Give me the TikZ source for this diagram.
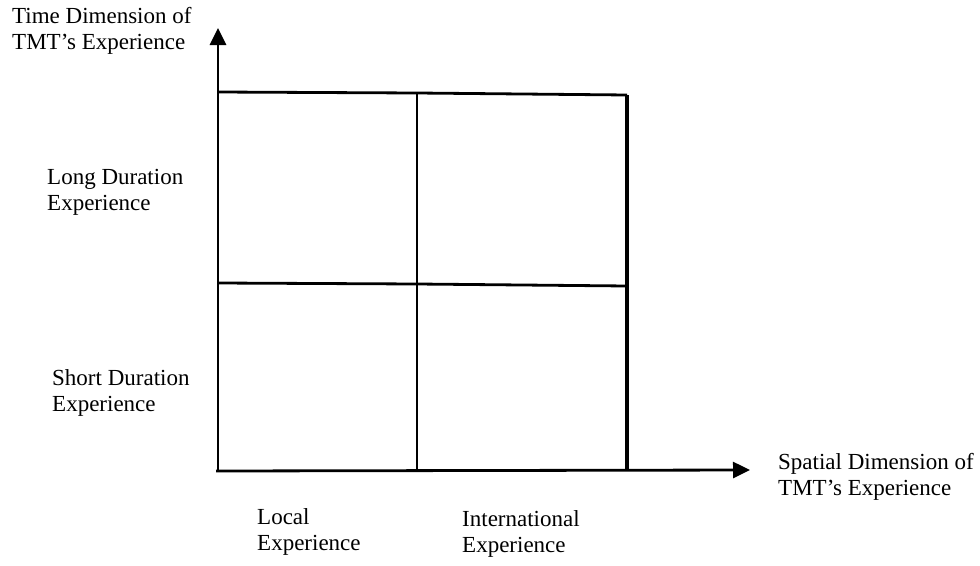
\documentclass[tikz,border=0pt]{standalone}
\usepackage{fontspec}
\setmainfont{Liberation Serif}
\usetikzlibrary{arrows.meta,positioning}

\tikzset{
    axis/.style={line width=2.8pt, -{Triangle[length=17pt,width=16pt]}},
    grid/.style={line width=2.8pt},
    lbl/.style={anchor=west, align=left, inner sep=0pt, font=\fontsize{23}{26}\selectfont}
}

\begin{document}
\begin{tikzpicture}[x=1pt, y=-1pt]
    \useasboundingbox (0,0) rectangle (980,565);
    % corners of the grid
    \coordinate (o) at (218,471);
    \coordinate (ytip) at (218,28);
    \coordinate (xtip) at (750,470);
    \coordinate (tl) at (218,92);
    \coordinate (tm) at (417,93);
    \coordinate (tr) at (627,95);
    \coordinate (ml) at (218,283);
    \coordinate (mm) at (417,284);
    \coordinate (mr) at (627,286);
    \coordinate (bm) at (417,471);
    \coordinate (br) at (627,471);
    % axes
    \draw[axis] (o) -- (ytip);
    \draw[axis] (216,471) -- (xtip);
    % grid lines
    \draw[grid] (tl) -- (tm) -- (tr);
    \draw[grid] (ml) -- (mm) -- (mr);
    \draw[grid] (tm) -- (bm);
    \draw[line width=4pt] (tr) -- (br);
    % labels
    \node[lbl] (ylab) at (12,31) {Time Dimension of\\TMT’s Experience};
    \node[lbl] (long) at (47,192) {Long Duration\\Experience};
    \node[lbl] (short) at (52,393) {Short Duration\\Experience};
    \node[lbl] (xlab) at (778,477) {Spatial Dimension of\\TMT’s Experience};
    \node[lbl] (local) at (257,532) {Local\\Experience};
    \node[lbl] (intl) at (462,534) {International\\Experience};
\end{tikzpicture}
\end{document}
